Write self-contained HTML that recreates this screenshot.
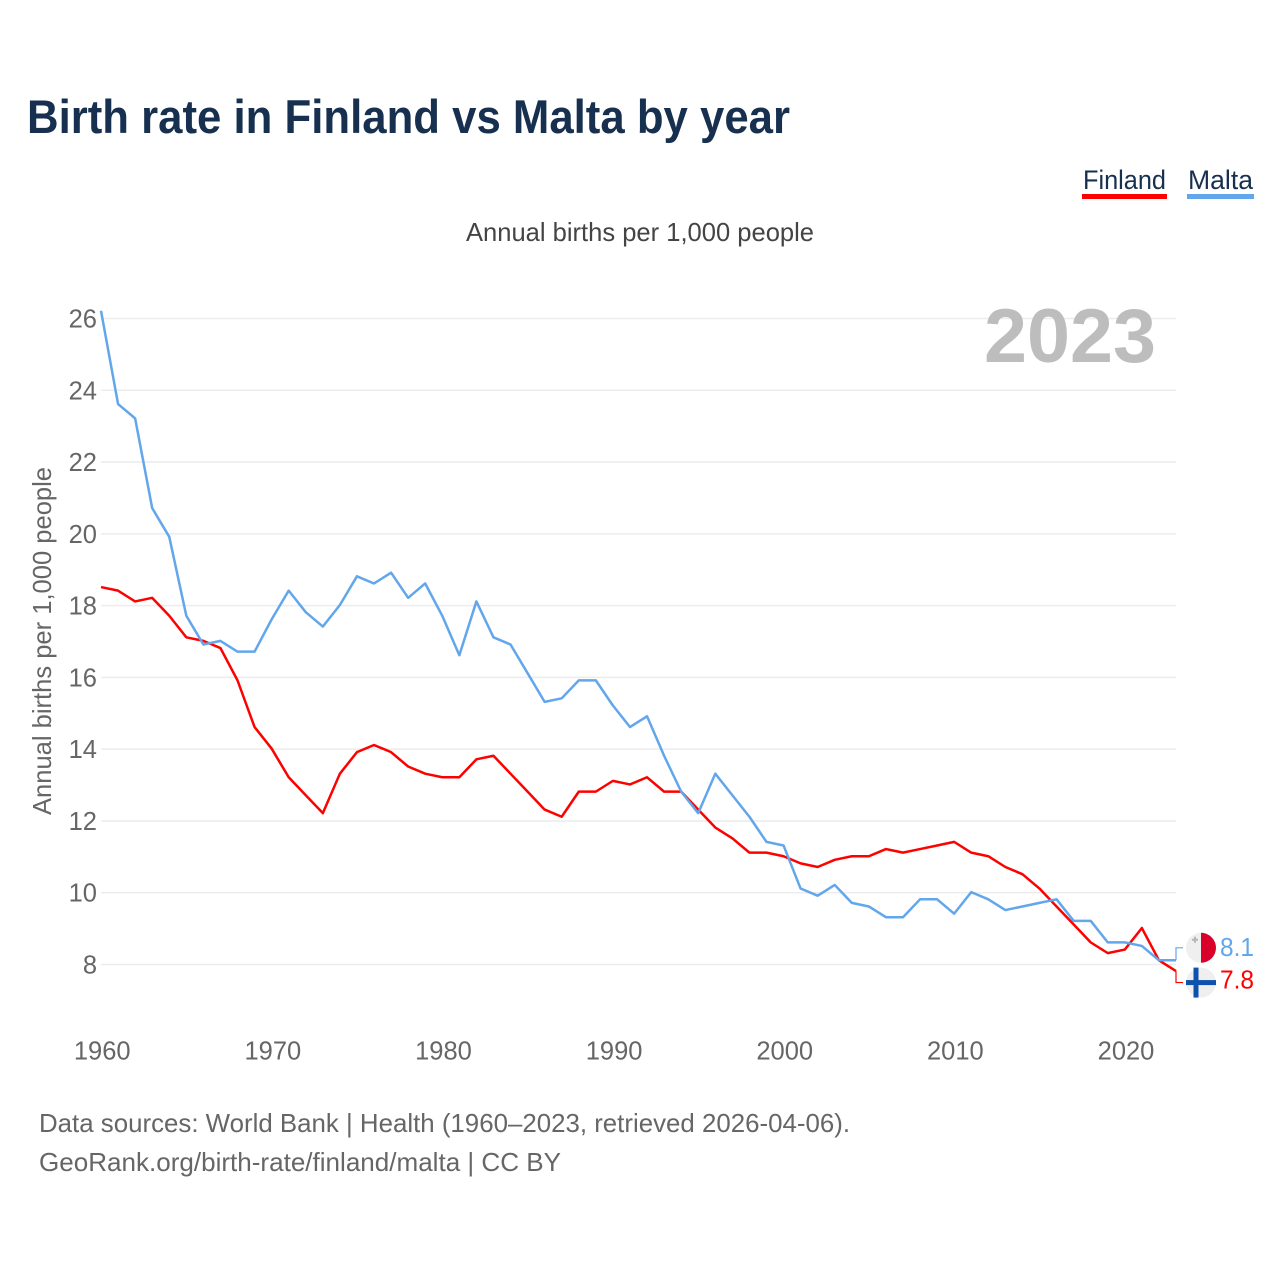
<!DOCTYPE html>
<html lang="en">
<head>
<meta charset="utf-8">
<title>Birth rate in Finland vs Malta by year</title>
<style>
html,body{margin:0;padding:0;background:#fff;}
svg{display:block;font-family:"Liberation Sans",sans-serif;}
</style>
</head>
<body>
<svg id="chart" xmlns="http://www.w3.org/2000/svg" width="1280" height="1280" viewBox="0 0 1280 1280">
  <rect width="1280" height="1280" fill="#ffffff"/>
  <text x="27" y="133" font-size="47" font-weight="700" fill="#17304f" textLength="763" lengthAdjust="spacingAndGlyphs">Birth rate in Finland vs Malta by year</text>
  <g>
    <text x="1083" y="189" font-size="27" fill="#17304f" textLength="83" lengthAdjust="spacingAndGlyphs">Finland</text>
    <rect x="1082" y="194" width="85" height="5" fill="#ff0000"/>
  </g>
  <g>
    <text x="1188" y="189" font-size="27" fill="#17304f" textLength="65" lengthAdjust="spacingAndGlyphs">Malta</text>
    <rect x="1187" y="194" width="67" height="5" fill="#62a6ec"/>
  </g>
  <text x="466" y="241" font-size="26" fill="#444444" textLength="348" lengthAdjust="spacingAndGlyphs">Annual births per 1,000 people</text>
  <text transform="translate(51,815) rotate(-90)" font-size="26" fill="#666666" textLength="348" lengthAdjust="spacingAndGlyphs">Annual births per 1,000 people</text>
  <g id="grid"></g>
  <g id="yticks"></g>
  <g id="xticks"></g>
  <text x="984" y="362" font-size="76" font-weight="700" fill="#bdbdbd" textLength="172" lengthAdjust="spacingAndGlyphs">2023</text>
  <g id="series" transform="translate(0,-0.6)"></g>
  <g id="ends"></g>
  <text x="39" y="1132" font-size="26" fill="#666666" textLength="811" lengthAdjust="spacingAndGlyphs">Data sources: World Bank | Health (1960–2023, retrieved 2026-04-06).</text>
  <text x="39" y="1171" font-size="26" fill="#666666" textLength="522" lengthAdjust="spacingAndGlyphs">GeoRank.org/birth-rate/finland/malta | CC BY</text>
</svg>
<script>
const startYear = 1960;
const yTickValues = [8, 10, 12, 14, 16, 18, 20, 22, 24, 26];
const xTickValues = [1960, 1970, 1980, 1990, 2000, 2010, 2020];
const finlandValues = [18.5, 18.4, 18.1, 18.2, 17.7, 17.1, 17.0, 16.8, 15.9, 14.6,
  14.0, 13.2, 12.7, 12.2, 13.3, 13.9, 14.1, 13.9, 13.5, 13.3,
  13.2, 13.2, 13.7, 13.8, 13.3, 12.8, 12.3, 12.1, 12.8, 12.8,
  13.1, 13.0, 13.2, 12.8, 12.8, 12.3, 11.8, 11.5, 11.1, 11.1,
  11.0, 10.8, 10.7, 10.9, 11.0, 11.0, 11.2, 11.1, 11.2, 11.3,
  11.4, 11.1, 11.0, 10.7, 10.5, 10.1, 9.6, 9.1, 8.6, 8.3,
  8.4, 9.0, 8.1, 7.8];
const maltaValues = [26.2, 23.6, 23.2, 20.7, 19.9, 17.7, 16.9, 17.0, 16.7, 16.7,
  17.6, 18.4, 17.8, 17.4, 18.0, 18.8, 18.6, 18.9, 18.2, 18.6,
  17.7, 16.6, 18.1, 17.1, 16.9, 16.1, 15.3, 15.4, 15.9, 15.9,
  15.2, 14.6, 14.9, 13.8, 12.8, 12.2, 13.3, 12.7, 12.1, 11.4,
  11.3, 10.1, 9.9, 10.2, 9.7, 9.6, 9.3, 9.3, 9.8, 9.8,
  9.4, 10.0, 9.8, 9.5, 9.6, 9.7, 9.8, 9.2, 9.2, 8.6,
  8.6, 8.5, 8.1, 8.1];

const NS = 'http://www.w3.org/2000/svg';
function xScale(year) { return 101 + (year - 1960) * (1176 - 101) / 63; }
function yScale(v) { return 964.5 - (v - 8) * (964.5 - 318.5) / 18; }
function make(tag, attrs, parent) {
  const el = document.createElementNS(NS, tag);
  for (const k in attrs) el.setAttribute(k, attrs[k]);
  parent.appendChild(el);
  return el;
}

const grid = document.getElementById('grid');
const yticks = document.getElementById('yticks');
yTickValues.forEach(function (v) {
  const line = make('line', { x1: 101, x2: 1176, y1: yScale(v), y2: yScale(v), stroke: '#ececec', 'stroke-width': 1.5 }, grid);
  
  
  const t = make('text', { x: 97, y: yScale(v) + 9, 'text-anchor': 'end', 'font-size': 25.5, fill: '#666666' }, yticks);
  
  
  t.textContent = v;
});

const xticks = document.getElementById('xticks');
xTickValues.forEach(function (yr) {
  const t = make('text', { x: xScale(yr) + 1.2, y: 1059.5, 'text-anchor': 'middle', 'font-size': 25.5, fill: '#666666' }, xticks);
  
  
  t.textContent = yr;
});

function linePoints(values) {
  return values.map(function (v, i) {
    return xScale(startYear + i).toFixed(2) + ',' + yScale(v).toFixed(2);
  }).join(' ');
}
const series = document.getElementById('series');
const finlandLine = make('polyline', { points: linePoints(finlandValues), fill: 'none', stroke: '#ff0000', 'stroke-width': 2.5, 'stroke-linejoin': 'round' }, series);


const maltaLine = make('polyline', { points: linePoints(maltaValues), fill: 'none', stroke: '#62a6ec', 'stroke-width': 2.5, 'stroke-linejoin': 'round' }, series);



const ends = document.getElementById('ends');
const xEnd = xScale(startYear + maltaValues.length - 1);
const yMalta = yScale(maltaValues[maltaValues.length - 1]) - 0.6;
const yFin = yScale(finlandValues[finlandValues.length - 1]) - 0.6;
const maltaY = yMalta - 12.5;
const finY = yFin + 11.5;

const leaderMalta = make('polyline', { points: xEnd + ',' + yMalta + ' ' + xEnd + ',' + maltaY + ' 1183,' + maltaY, fill: 'none', stroke: '#62a6ec', 'stroke-width': 1.2 }, ends);


const leaderFin = make('polyline', { points: xEnd + ',' + yFin + ' ' + xEnd + ',' + finY + ' 1183,' + finY, fill: 'none', stroke: '#ff0000', 'stroke-width': 1.2 }, ends);



const flagMalta = make('g', {}, ends);


make('circle', { cx: 1201, cy: maltaY, r: 15, fill: '#efefef' }, flagMalta);
make('path', { d: 'M1201 ' + (maltaY - 15) + 'a15 15 0 0 1 0 30z', fill: '#d9002a' }, flagMalta);
make('path', { d: 'M1195 ' + (maltaY - 11) + 'v6M1192 ' + (maltaY - 8) + 'h6', stroke: '#b5b5b5', 'stroke-width': 2, fill: 'none' }, flagMalta);

const flagFin = make('g', {}, ends);


make('circle', { cx: 1201, cy: finY, r: 15, fill: '#efefef' }, flagFin);
make('rect', { x: 1186, y: finY - 2.5, width: 30, height: 5, fill: '#0f52ad' }, flagFin);
make('rect', { x: 1193.5, y: finY - 15, width: 5, height: 30, fill: '#0f52ad' }, flagFin);

const labelMalta = make('text', { x: 1220, y: maltaY + 8, 'font-size': 25.5, fill: '#62a6ec', textLength: 34, lengthAdjust: 'spacingAndGlyphs' }, ends);


labelMalta.textContent = maltaValues[maltaValues.length - 1].toFixed(1);
const labelFin = make('text', { x: 1220, y: finY + 6, 'font-size': 25.5, fill: '#ff0000', textLength: 34, lengthAdjust: 'spacingAndGlyphs' }, ends);


labelFin.textContent = finlandValues[finlandValues.length - 1].toFixed(1);
</script>
</body>
</html>
